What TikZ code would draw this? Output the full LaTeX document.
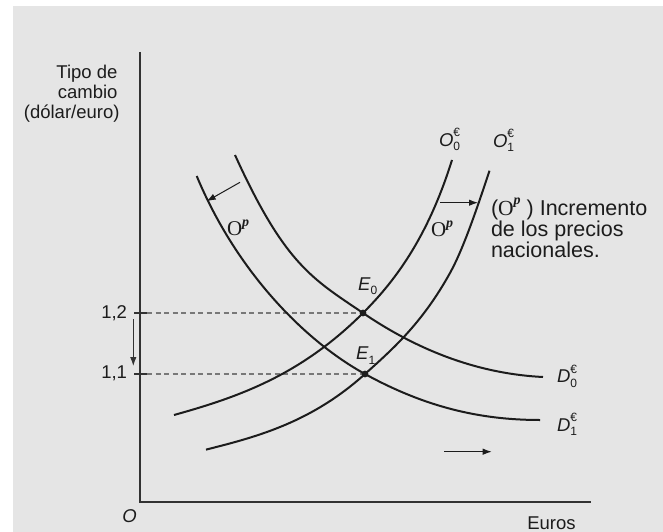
\documentclass[tikz,border=0pt]{standalone}
\usepackage{fontspec}
\setmainfont{Liberation Sans}
\newfontfamily\serifO{Liberation Serif}
\usetikzlibrary{arrows.meta}
\definecolor{bg}{RGB}{229,229,229}
\definecolor{ink}{RGB}{28,28,28}
\definecolor{axisc}{RGB}{50,50,50}
\definecolor{dashc}{RGB}{120,120,120}
\newcommand\supsub[3]{\textit{#1}\rlap{\raisebox{0.5em}{\fontsize{12}{12}\selectfont #2}}\raisebox{-0.25em}{\fontsize{12}{12}\selectfont #3}}
\newcommand\subonly[2]{\textit{#1}\raisebox{-0.25em}{\fontsize{12}{12}\selectfont #2}}
\newcommand\Opp[1]{{\fontsize{#1}{#1}\selectfont\serifO O}\raisebox{0.5em}{\fontsize{14}{14}\selectfont\serifO\bfseries\itshape p}}
\begin{document}
\begin{tikzpicture}[x=1pt,y=-1pt,
  every node/.style={inner sep=0pt, outer sep=0pt, text=ink, font=\fontsize{18.5}{18.5}\selectfont},
  curve/.style={draw=ink, line width=2pt},
  axis/.style={draw=axisc, line width=1.6pt},
  guide/.style={draw=dashc, line width=1.2pt, dash pattern=on 5pt off 3.5pt},
  shiftarrow/.style={draw=ink, line width=1pt, -{Latex[length=9pt,width=6.5pt]}},
  bigtxt/.style={font=\fontsize{21.5}{21.5}\selectfont}]
\useasboundingbox (0,0) rectangle (663,532);
\fill[white] (0,0) rectangle (663,532);
\fill[bg] (13,6) rectangle (663,532);
% axes
\coordinate (ytop) at (140,52);
\coordinate (orig) at (140,502);
\coordinate (xend) at (591,502);
\draw[axis] (ytop) -- (orig) -- (xend);
% equilibria
\coordinate (E0) at (363,313);
\coordinate (E1) at (365,374);
% ticks and guides
\coordinate (t12a) at (134,313); \coordinate (t12b) at (147,313);
\coordinate (t11a) at (134,374); \coordinate (t11b) at (147,374);
\draw[axis, line width=1.2pt] (t12a) -- (t12b);
\draw[axis, line width=1.2pt] (t11a) -- (t11b);
\draw[guide] (t12b) -- (E0);
\draw[guide] (t11b) -- (E1);
% demand curves
\draw[curve] (235,155) .. controls (285,265) and (313,279) .. (E0)
  .. controls (423,353.8) and (483,374) .. (543,377);
\draw[curve] (196.7,176) .. controls (236.7,272) and (305,341) .. (E1)
  .. controls (425,407) and (480,420) .. (540,420);
% supply curves
\draw[curve] (174,415) .. controls (237,397.4) and (300,376) .. (E0)
  .. controls (393,283) and (427,240) .. (452,160);
\draw[curve] (206,449.6) .. controls (259,436.4) and (312,421.7) .. (E1)
  .. controls (393,348.8) and (422,323.4) .. (450,273)
  .. controls (463,249.6) and (476.5,209.9) .. (489.5,170.7);
\fill[ink] (E0) circle (3.4pt);
\fill[ink] (E1) circle (3.4pt);
% shift arrows
\coordinate (la1) at (240,182.3); \coordinate (la2) at (206.7,201.2);
\coordinate (ra1) at (440,202.7); \coordinate (ra2) at (478,202.7);
\coordinate (ba1) at (444,451.7); \coordinate (ba2) at (491.7,451.7);
\coordinate (da1) at (133.3,319); \coordinate (da2) at (133.3,366);
\draw[shiftarrow] (la1) -- (la2);
\draw[shiftarrow] (ra1) -- (ra2);
\draw[shiftarrow] (ba1) -- (ba2);
\draw[shiftarrow, draw=axisc] (da1) -- (da2);
% labels
\node[anchor=base east] (y1) at (117.5,79) {Tipo de};
\node[anchor=base east] (y2) at (117.5,98.5) {cambio};
\node[anchor=base east] (y3) at (119.5,118) {(dólar/euro)};
\node[anchor=base east] (v12) at (127,318.5) {1,2};
\node[anchor=base east] (v11) at (127,378.5) {1,1};
\node[anchor=center] (lO) at (129.5,516.5) {\textit{O}};
\node[anchor=base] (lx) at (551.5,529.5) {Euros};
\node[anchor=base west] (lE0) at (358,290) {\subonly{E}{0}};
\node[anchor=base west] (lE1) at (356,359.5) {\subonly{E}{1}};
\node[anchor=base west] (lO0) at (439,146) {\supsub{O}{€}{0}};
\node[anchor=base west] (lO1) at (493,147) {\supsub{O}{€}{1}};
\node[anchor=base west] (lD0) at (557,382.7) {\supsub{D}{€}{0}};
\node[anchor=base west] (lD1) at (557,431) {\supsub{D}{€}{1}};
\node[anchor=base west] (opl) at (227,235.5) {\Opp{21}};
\node[anchor=base west] (opr) at (431,236.5) {\Opp{21}};
\node[anchor=base west, bigtxt] (t1) at (491,215.7) {(\Opp{21.5}\ ) Incremento};
\node[anchor=base west, bigtxt] (t2) at (491,236.7) {de los precios};
\node[anchor=base west, bigtxt] (t3) at (491,257.7) {nacionales.};
\end{tikzpicture}
\end{document}
